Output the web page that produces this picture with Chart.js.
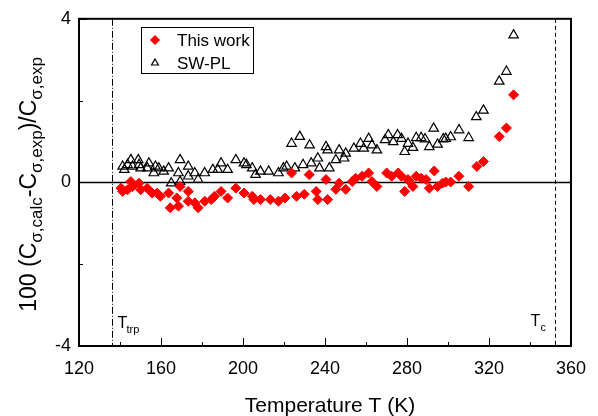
<!DOCTYPE html>
<html lang="en">
<head>
<meta charset="UTF-8">
<title>Heat capacity deviations</title>
<script src="https://cdn.jsdelivr.net/npm/chart.js"></script>
<style>
  html, body { margin: 0; padding: 0; background: #fff; }
  #wrap { width: 598px; height: 416px; }
</style>
</head>
<body>
<div id="wrap"><canvas id="devChart" width="598" height="416"></canvas></div>
<script>
// deviations of calculated saturation heat capacity, in percent
const thisWorkT = [140.5, 141.3, 143.7, 145.3, 146.1, 149.3, 150.1, 153.3, 155.7, 158.1,
    159.7, 163.7, 164.5, 167.7, 168.5, 169.3, 173.3, 173.3, 176.5, 178.1,
    181.3, 184.5, 186.1, 189.3, 192.5, 196.5, 200.5, 204.5, 205.3, 208.5,
    213.3, 217.3, 220.5, 223.7, 226.1, 229.9, 232.3, 235.7, 236.5, 240.5,
    241.3, 245.3, 246.9, 250.1, 253.3, 254.9, 258.1, 261.3, 262.9, 265.3,
    270.1, 272.5, 275.7, 277.3, 278.9, 280.5, 281.3, 282.9, 284.5, 286.9,
    289.3, 290.9, 293.3, 294.9, 297.3, 298.9, 301.3, 305.3, 310.1, 314.1,
    317.3, 325.0, 328.5, 332.0];
const thisWorkDev = [-0.14, -0.22, -0.18, 0.02, -0.10, -0.02, -0.18, -0.14, -0.26, -0.26,
    -0.34, -0.26, -0.62, -0.38, -0.58, -0.10, -0.22, -0.46, -0.50, -0.62,
    -0.46, -0.42, -0.34, -0.22, -0.38, -0.14, -0.26, -0.34, -0.42, -0.42,
    -0.42, -0.46, -0.38, 0.23, -0.34, -0.29, 0.19, -0.22, -0.42, 0.07,
    -0.42, -0.17, -0.02, -0.17, 0.02, 0.10, 0.15, 0.23, 0.02, -0.10,
    0.23, 0.15, 0.23, 0.15, -0.22, 0.07, 0.02, -0.10, 0.15, 0.10,
    0.07, -0.14, 0.28, -0.10, -0.02, 0.01, 0.01, 0.15, -0.10, 0.39,
    0.51, 1.12, 1.33, 2.14];

const swplT = [141.3, 142.1, 143.7, 145.3, 146.1, 148.9, 149.3, 150.1, 153.3, 154.1,
    156.5, 157.3, 158.9, 161.3, 163.7, 165.0, 168.5, 169.3, 169.3, 173.3,
    173.3, 176.5, 178.1, 181.3, 185.3, 187.7, 189.3, 192.5, 196.5, 200.5,
    201.7, 204.5, 206.1, 208.5, 212.5, 217.3, 219.7, 221.3, 223.7, 225.3,
    227.7, 229.3, 232.5, 233.3, 236.5, 237.3, 240.5, 241.3, 242.1, 245.3,
    246.9, 249.3, 250.1, 254.1, 257.3, 258.9, 261.3, 262.9, 265.3, 269.3,
    270.9, 273.3, 275.4, 277.3, 278.9, 280.5, 282.9, 284.5, 286.9, 288.8,
    290.9, 293.0, 294.9, 297.7, 298.9, 301.3, 305.4, 310.1, 313.8, 317.3,
    325.0, 328.5, 332.0];
const swplDev = [0.39, 0.31, 0.43, 0.55, 0.39, 0.55, 0.43, 0.35, 0.35, 0.47,
    0.23, 0.39, 0.35, 0.27, 0.35, -0.02, 0.23, 0.55, 0.02, 0.39,
    0.15, 0.23, 0.07, 0.23, 0.31, 0.31, 0.47, 0.31, 0.55, 0.47,
    0.43, 0.35, 0.19, 0.27, 0.27, 0.23, 0.35, 0.39, 0.95, 0.35,
    1.12, 0.43, 0.91, 0.47, 0.59, 0.35, 0.87, 0.79, 0.35, 0.55,
    0.79, 0.59, 0.71, 0.83, 0.95, 0.83, 1.07, 0.91, 0.79, 1.04,
    1.16, 0.99, 1.16, 1.07, 0.75, 0.95, 0.85, 1.09, 1.09, 1.06,
    0.87, 1.32, 0.93, 1.06, 1.07, 1.11, 1.28, 1.09, 1.60, 1.76,
    2.47, 2.71, 3.60];

const xMajorTicks = [120, 160, 200, 240, 280, 320, 360];
const xMinorTicks = [140, 180, 220, 260, 300, 340];
const yMajorTicks = [-4, 0, 4];
const yMinorTicks = [-2, 2];
const tTriple = 136;  // triple point
const tCrit = 352;    // critical point

const FONT = '"Liberation Sans", Arial, sans-serif';

function toPoints(xs, ys) {
    return xs.map((x, i) => ({ x: x, y: ys[i] }));
}

// frame, inward ticks, zero line, T_trp / T_c markers, titles and legend
const decorations = {
    id: 'decorations',
    beforeDatasetsDraw(chart) {
        const ctx = chart.ctx;
        const a = chart.chartArea;
        const xs = chart.scales.x, ys = chart.scales.y;
        ctx.save();
        ctx.strokeStyle = '#000';

        // zero line
        ctx.lineWidth = 1.5;
        const y0 = Math.round(ys.getPixelForValue(0)) + 0.5;
        ctx.beginPath();
        ctx.moveTo(a.left, y0);
        ctx.lineTo(a.right, y0);
        ctx.stroke();

        // triple point (dash-dot) and critical point (dashed)
        ctx.lineWidth = 1;
        const xt = Math.round(xs.getPixelForValue(tTriple)) + 0.5;
        ctx.setLineDash([7, 2, 1, 2]);
        ctx.beginPath();
        ctx.moveTo(xt, a.top);
        ctx.lineTo(xt, a.bottom);
        ctx.stroke();
        const xc = Math.round(xs.getPixelForValue(tCrit)) + 0.5;
        ctx.setLineDash([4, 3]);
        ctx.beginPath();
        ctx.moveTo(xc, a.top);
        ctx.lineTo(xc, a.bottom);
        ctx.stroke();
        ctx.setLineDash([]);

        ctx.fillStyle = '#000';
        ctx.textBaseline = 'alphabetic';
        ctx.textAlign = 'left';
        ctx.font = '16px ' + FONT;
        ctx.fillText('T', xt + 5, 328);
        ctx.font = '11px ' + FONT;
        ctx.fillText('trp', xt + 14, 333);
        ctx.font = '16px ' + FONT;
        ctx.fillText('T', xc - 25, 326);
        ctx.font = '11px ' + FONT;
        ctx.fillText('c', xc - 15, 331);
        ctx.restore();
    },
    afterDraw(chart) {
        const ctx = chart.ctx;
        const a = chart.chartArea;
        const xs = chart.scales.x, ys = chart.scales.y;
        ctx.save();
        ctx.strokeStyle = '#000';
        ctx.fillStyle = '#000';

        // box
        ctx.lineWidth = 2;
        ctx.strokeRect(a.left, a.top, a.right - a.left, a.bottom - a.top);

        // inward ticks
        ctx.lineWidth = 1;
        ctx.beginPath();
        xMajorTicks.forEach(v => {
            const p = Math.round(xs.getPixelForValue(v)) + 0.5;
            ctx.moveTo(p, a.bottom);
            ctx.lineTo(p, a.bottom - 8);
        });
        xMinorTicks.forEach(v => {
            const p = Math.round(xs.getPixelForValue(v)) + 0.5;
            ctx.moveTo(p, a.bottom);
            ctx.lineTo(p, a.bottom - 4);
        });
        yMajorTicks.forEach(v => {
            const p = Math.round(ys.getPixelForValue(v)) + 0.5;
            ctx.moveTo(a.left, p);
            ctx.lineTo(a.left + 8, p);
        });
        yMinorTicks.forEach(v => {
            const p = Math.round(ys.getPixelForValue(v)) + 0.5;
            ctx.moveTo(a.left, p);
            ctx.lineTo(a.left + 4, p);
        });
        ctx.stroke();

        // x title
        ctx.textAlign = 'center';
        ctx.textBaseline = 'alphabetic';
        ctx.font = '21px ' + FONT;
        ctx.fillText('Temperature T (K)', 330, 412);

        // y title with subscripts, rotated
        const parts = [
            ['100 (C', false], ['\u03c3,calc', true], ['-C', false],
            ['\u03c3,exp', true], [')/C', false], ['\u03c3,exp', true]
        ];
        const big = '23px ' + FONT, small = '17px ' + FONT;
        let total = 0;
        parts.forEach(p => {
            ctx.font = p[1] ? small : big;
            total += ctx.measureText(p[0]).width;
        });
        ctx.translate(36, (a.top + a.bottom) / 2 + 2);
        ctx.rotate(-Math.PI / 2);
        ctx.textAlign = 'left';
        let cx = -total / 2;
        parts.forEach(p => {
            ctx.font = p[1] ? small : big;
            ctx.fillText(p[0], cx, p[1] ? 6 : 0);
            cx += ctx.measureText(p[0]).width;
        });
        ctx.setTransform(1, 0, 0, 1, 0, 0);

        // legend
        ctx.lineWidth = 1;
        ctx.strokeStyle = '#000';
        ctx.strokeRect(141.5, 27.5, 112, 46);
        const rows = [40, 63];
        chart.data.datasets.forEach((d, i) => {
            ctx.fillStyle = d.pointStyle === 'triangle' ? '#ffffff' : d.backgroundColor;
            ctx.strokeStyle = d.borderColor;
            ctx.lineWidth = d.borderWidth;
            Chart.helpers.drawPoint(ctx, {
                pointStyle: d.pointStyle,
                radius: d.pointStyle === 'triangle' ? 4 : 4.5,
                borderWidth: d.borderWidth
            }, 155, rows[i]);
            ctx.fillStyle = '#000';
            ctx.font = '17px ' + FONT;
            ctx.textAlign = 'left';
            ctx.textBaseline = 'middle';
            ctx.fillText(d.label, 177, rows[i] + 1);
        });
        ctx.restore();
    }
};

new Chart(document.getElementById('devChart'), {
    type: 'scatter',
    data: {
        datasets: [
            {
                label: 'This work',
                data: toPoints(thisWorkT, thisWorkDev),
                pointStyle: 'rectRot',
                pointRadius: 5,
                backgroundColor: '#ff0000',
                borderColor: '#ff0000',
                borderWidth: 1
            },
            {
                label: 'SW-PL',
                data: toPoints(swplT, swplDev),
                pointStyle: 'triangle',
                pointRadius: 5.5,
                backgroundColor: 'rgba(255,255,255,0)',
                borderColor: '#000000',
                borderWidth: 1.2
            }
        ]
    },
    options: {
        responsive: false,
        animation: false,
        layout: { padding: { left: 0, top: 16, right: 19, bottom: 0 } },
        plugins: {
            legend: { display: false },
            tooltip: { enabled: false }
        },
        scales: {
            x: {
                type: 'linear',
                min: 120,
                max: 360,
                afterFit: s => { s.height = 70; },
                afterBuildTicks: s => { s.ticks = xMajorTicks.map(v => ({ value: v })); },
                grid: { display: false, drawTicks: false },
                border: { display: false },
                ticks: {
                    color: '#000',
                    padding: 12,
                    maxRotation: 0,
                    font: { family: FONT, size: 18 }
                }
            },
            y: {
                type: 'linear',
                min: -4,
                max: 4,
                afterFit: s => { s.width = 79; },
                afterBuildTicks: s => { s.ticks = yMajorTicks.map(v => ({ value: v })); },
                grid: { display: false, drawTicks: false },
                border: { display: false },
                ticks: {
                    color: '#000',
                    padding: 8,
                    font: { family: FONT, size: 18 }
                }
            }
        }
    },
    plugins: [decorations]
});
</script>
</body>
</html>
